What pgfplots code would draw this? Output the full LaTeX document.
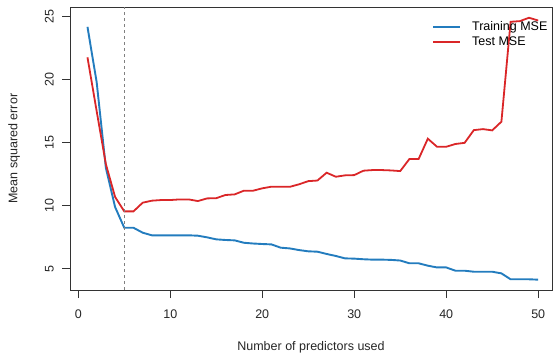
\documentclass[border=0pt]{standalone}
\usepackage{pgfplots}
\pgfplotsset{compat=1.18}
\usepackage{fontspec}
\setmainfont{Liberation Sans}
\definecolor{trainblue}{RGB}{35,124,190}
\definecolor{testred}{RGB}{218,38,40}
\begin{document}
\fontsize{12.5bp}{14bp}\selectfont
\begin{tikzpicture}
\begin{axis}[
  scale only axis,
  width=482bp, height=282.7bp,
  xmin=-0.9, xmax=51.5,
  ymin=3.31, ymax=25.75,
  xtick={0,10,20,30,40,50},
  ytick={5,10,15,20,25},
  tick align=outside,
  xtick pos=bottom, ytick pos=left,
  major tick length=8bp,
  axis line style={black!80, line width=0.8bp},
  tick style={black!80, line width=0.8bp},
  /pgf/number format/assume math mode=true,
  ticklabel style={font=\fontsize{12.5bp}{14bp}\selectfont, text=black!85},
  xticklabel style={anchor=north},
  xticklabel shift=7bp,
  yticklabel style={rotate=90, anchor=south},
  yticklabel shift=4bp,
  xlabel={Number of predictors used},
  ylabel={Mean squared error},
  label style={font=\fontsize{12.5bp}{14bp}\selectfont, text=black!85},
  xlabel style={at={(axis description cs:0.5,0)}, anchor=center, yshift=-57bp},
  ylabel style={at={(axis description cs:-0.116,0.5)}, anchor=center},
  legend style={draw=none, fill=none, at={(0.751,0.957)}, anchor=north west,
    inner sep=0pt, row sep=0bp, font=\fontsize{12.5bp}{14bp}\selectfont},
  legend cell align=left,
  legend image code/.code={\draw[#1, line width=2bp] (0bp,0bp) -- (27bp,0bp); \path (36bp,0bp);},
]
\addplot[trainblue, line width=1.9bp] coordinates {
(1,24.2)(2,19.8)(3,13.0)(4,9.9)(5,8.25)(6,8.25)(7,7.86)(8,7.65)(9,7.65)(10,7.65)
(11,7.65)(12,7.65)(13,7.62)(14,7.49)(15,7.33)(16,7.28)(17,7.25)(18,7.06)(19,7.0)(20,6.96)
(21,6.93)(22,6.67)(23,6.61)(24,6.48)(25,6.38)(26,6.35)(27,6.17)(28,6.01)(29,5.82)(30,5.8)
(31,5.75)(32,5.72)(33,5.72)(34,5.7)(35,5.65)(36,5.43)(37,5.43)(38,5.24)(39,5.1)(40,5.1)
(41,4.84)(42,4.84)(43,4.76)(44,4.76)(45,4.76)(46,4.63)(47,4.16)(48,4.16)(49,4.16)(50,4.13)
};
\addlegendentry{Training MSE}
\addplot[testred, line width=1.8bp] coordinates {
(1,21.78)(2,17.5)(3,13.3)(4,10.7)(5,9.55)(6,9.55)(7,10.24)(8,10.4)(9,10.45)(10,10.45)
(11,10.5)(12,10.5)(13,10.37)(14,10.58)(15,10.6)(16,10.85)(17,10.9)(18,11.19)(19,11.19)(20,11.38)
(21,11.51)(22,11.5)(23,11.5)(24,11.7)(25,11.95)(26,12.0)(27,12.62)(28,12.3)(29,12.41)(30,12.43)
(31,12.78)(32,12.83)(33,12.83)(34,12.8)(35,12.75)(36,13.71)(37,13.71)(38,15.32)(39,14.68)(40,14.68)
(41,14.9)(42,14.99)(43,16.0)(44,16.08)(45,15.98)(46,16.67)(47,24.6)(48,24.65)(49,24.92)(50,24.7)
};
\addlegendentry{Test MSE}
\addplot[gray, dashed, line width=0.8bp, forget plot] coordinates {(5,3.31)(5,25.75)};
\end{axis}
\useasboundingbox (-70bp,-64bp) rectangle (485bp,290bp);
\end{tikzpicture}
\end{document}
